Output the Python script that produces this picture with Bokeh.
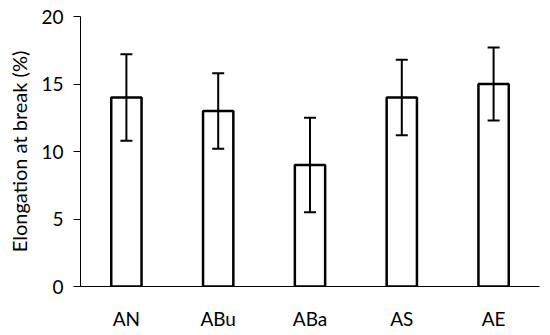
from bokeh.plotting import figure
from bokeh.models import ColumnDataSource, FactorRange, Range1d, FixedTicker, Whisker, TeeHead
from bokeh.embed import file_html
from bokeh.resources import INLINE

categories = ["AN", "ABu", "ABa", "AS", "AE"]
values = [14.0, 13.0, 9.0, 14.0, 15.0]
upper = [17.2, 15.8, 12.5, 16.8, 17.7]
lower = [10.8, 10.2, 5.5, 11.2, 12.3]
y_ticks = [0, 5, 10, 15, 20]

src = ColumnDataSource(dict(cat=categories, val=values, up=upper, lo=lower))

FONT = "Lato"

p = figure(x_range=FactorRange(*categories), y_range=Range1d(0, 20),
           width=550, height=335, output_backend="svg", toolbar_location=None,
           min_border_left=80, min_border_right=11, min_border_top=16, min_border_bottom=49)
p.outline_line_color = None
p.xgrid.grid_line_color = None
p.ygrid.grid_line_color = None

p.vbar(x="cat", top="val", width=0.33, source=src, fill_color="white",
       line_color="black", line_width=2.5)

w = Whisker(base="cat", upper="up", lower="lo", source=src, line_width=2, line_color="black",
            level="overlay",
            upper_head=TeeHead(size=12, line_width=2, line_color="black"),
            lower_head=TeeHead(size=12, line_width=2, line_color="black"))
p.add_layout(w)

p.yaxis.ticker = FixedTicker(ticks=y_ticks)
p.yaxis.minor_tick_line_color = None
p.yaxis.major_tick_out = 7
p.yaxis.major_tick_in = 0
p.yaxis.major_label_standoff = 10
p.yaxis.axis_label = "Elongation at break (%)"
p.yaxis.axis_label_text_font = FONT
p.yaxis.axis_label_text_font_style = "normal"
p.yaxis.axis_label_text_font_size = "20px"
p.yaxis.axis_label_text_color = "black"
p.yaxis.axis_label_standoff = 7
p.yaxis.major_label_text_font = FONT
p.yaxis.major_label_text_font_size = "19px"
p.yaxis.major_label_text_color = "black"
p.yaxis.axis_line_color = "black"

p.xaxis.major_tick_out = 0
p.xaxis.major_tick_in = 0
p.xaxis.minor_tick_line_color = None
p.xaxis.major_label_standoff = 20
p.xaxis.major_label_text_font = FONT
p.xaxis.major_label_text_font_size = "19px"
p.xaxis.major_label_text_color = "black"
p.xaxis.axis_line_color = "black"

open("out.html", "w").write(file_html(p, INLINE))
